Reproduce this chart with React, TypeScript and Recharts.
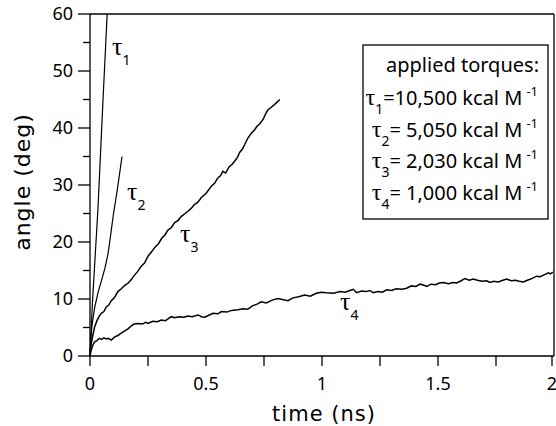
import { LineChart, Line, XAxis, YAxis, ReferenceLine } from "recharts";

// time (ns), angle (deg)
const tau1 = [
  { t: 0, a: 0 }, { t: 0.003, a: 2.5 }, { t: 0.01, a: 9 }, { t: 0.0345, a: 26 },
  { t: 0.055, a: 44 }, { t: 0.074, a: 60 },
];

const tau2 = [
  { t: 0, a: 0 }, { t: 0.004, a: 3.5 }, { t: 0.01, a: 5.8 }, { t: 0.02, a: 8.5 },
  { t: 0.035, a: 11.2 }, { t: 0.05, a: 13.3 }, { t: 0.065, a: 15.5 }, { t: 0.078, a: 18.0 },
  { t: 0.09, a: 21.5 }, { t: 0.1, a: 24.6 }, { t: 0.12, a: 29.8 }, { t: 0.138, a: 35 },
];

const tau3 = [
  { t: 0, a: 0 }, { t: 0.003, a: 1.6 }, { t: 0.01, a: 3.2 }, { t: 0.02, a: 5.1 },
  { t: 0.03, a: 6.2 }, { t: 0.04, a: 7.0 }, { t: 0.049, a: 7.5 }, { t: 0.06, a: 7.8 },
  { t: 0.07, a: 8.6 }, { t: 0.08, a: 8.9 }, { t: 0.092, a: 9.7 }, { t: 0.106, a: 10.3 },
  { t: 0.12, a: 11.3 }, { t: 0.135, a: 11.8 }, { t: 0.15, a: 12.4 }, { t: 0.165, a: 12.8 },
  { t: 0.178, a: 13.4 }, { t: 0.19, a: 14.1 }, { t: 0.205, a: 14.8 }, { t: 0.22, a: 15.7 },
  { t: 0.235, a: 16.3 }, { t: 0.25, a: 17.5 }, { t: 0.264, a: 18.2 }, { t: 0.28, a: 19.1 },
  { t: 0.295, a: 19.7 }, { t: 0.31, a: 20.7 }, { t: 0.322, a: 21.2 }, { t: 0.336, a: 22.1 },
  { t: 0.35, a: 22.5 }, { t: 0.365, a: 23.4 }, { t: 0.38, a: 23.8 }, { t: 0.394, a: 24.5 },
  { t: 0.41, a: 25.0 }, { t: 0.422, a: 25.4 }, { t: 0.436, a: 25.9 }, { t: 0.451, a: 26.6 },
  { t: 0.465, a: 27.0 }, { t: 0.48, a: 27.8 }, { t: 0.5, a: 28.5 }, { t: 0.523, a: 29.8 },
  { t: 0.537, a: 30.3 }, { t: 0.55, a: 31.2 }, { t: 0.562, a: 31.6 }, { t: 0.573, a: 32.4 },
  { t: 0.585, a: 32.1 }, { t: 0.6, a: 33.2 }, { t: 0.612, a: 33.6 }, { t: 0.624, a: 34.2 },
  { t: 0.635, a: 34.8 }, { t: 0.645, a: 35.7 }, { t: 0.657, a: 36.3 }, { t: 0.667, a: 37.1 },
  { t: 0.68, a: 38.2 }, { t: 0.695, a: 39.1 }, { t: 0.708, a: 39.6 }, { t: 0.72, a: 40.3 },
  { t: 0.733, a: 40.8 }, { t: 0.746, a: 41.5 }, { t: 0.757, a: 42.5 }, { t: 0.767, a: 43.2 },
  { t: 0.78, a: 43.6 }, { t: 0.792, a: 44.0 }, { t: 0.805, a: 44.5 }, { t: 0.818, a: 45.0 },
];

const tau4 = [
  { t: 0, a: 0 }, { t: 0.005, a: 1.0 }, { t: 0.012, a: 1.9 }, { t: 0.02, a: 2.5 },
  { t: 0.03, a: 2.7 }, { t: 0.04, a: 3.1 }, { t: 0.05, a: 2.9 }, { t: 0.06, a: 3.2 },
  { t: 0.07, a: 3.0 }, { t: 0.08, a: 3.1 }, { t: 0.092, a: 2.8 }, { t: 0.105, a: 3.3 },
  { t: 0.12, a: 3.6 }, { t: 0.135, a: 4.0 }, { t: 0.15, a: 4.4 }, { t: 0.165, a: 4.8 },
  { t: 0.178, a: 5.3 }, { t: 0.19, a: 5.6 }, { t: 0.207, a: 5.7 }, { t: 0.225, a: 5.6 },
  { t: 0.24, a: 5.9 }, { t: 0.25, a: 5.7 }, { t: 0.27, a: 6.1 }, { t: 0.29, a: 6.0 },
  { t: 0.307, a: 6.3 }, { t: 0.325, a: 6.2 }, { t: 0.35, a: 6.9 }, { t: 0.365, a: 6.7 },
  { t: 0.385, a: 6.9 }, { t: 0.405, a: 6.8 }, { t: 0.422, a: 7.0 }, { t: 0.44, a: 6.9 },
  { t: 0.466, a: 7.2 }, { t: 0.48, a: 6.9 }, { t: 0.494, a: 6.8 }, { t: 0.51, a: 7.1 },
  { t: 0.53, a: 7.5 }, { t: 0.552, a: 7.4 }, { t: 0.566, a: 7.8 }, { t: 0.59, a: 7.7 },
  { t: 0.61, a: 8.0 }, { t: 0.638, a: 8.1 }, { t: 0.66, a: 8.3 }, { t: 0.68, a: 8.2 },
  { t: 0.7, a: 8.8 }, { t: 0.72, a: 9.1 }, { t: 0.738, a: 9.5 }, { t: 0.76, a: 9.3 },
  { t: 0.785, a: 9.8 }, { t: 0.81, a: 10.1 }, { t: 0.83, a: 9.9 }, { t: 0.853, a: 9.7 },
  { t: 0.875, a: 10.2 }, { t: 0.9, a: 10.4 }, { t: 0.925, a: 10.7 }, { t: 0.95, a: 10.5 },
  { t: 0.975, a: 11.0 }, { t: 0.997, a: 11.2 }, { t: 1.02, a: 11.1 }, { t: 1.05, a: 11.0 },
  { t: 1.078, a: 11.3 }, { t: 1.1, a: 11.2 }, { t: 1.12, a: 11.5 }, { t: 1.135, a: 11.7 },
  { t: 1.149, a: 11.1 }, { t: 1.17, a: 11.4 }, { t: 1.19, a: 11.3 }, { t: 1.205, a: 11.5 },
  { t: 1.221, a: 11.1 }, { t: 1.24, a: 11.3 }, { t: 1.26, a: 11.2 }, { t: 1.279, a: 11.6 },
  { t: 1.3, a: 11.5 }, { t: 1.32, a: 11.8 }, { t: 1.345, a: 11.7 }, { t: 1.365, a: 11.9 },
  { t: 1.385, a: 12.3 }, { t: 1.405, a: 12.2 }, { t: 1.422, a: 12.6 }, { t: 1.44, a: 12.4 },
  { t: 1.451, a: 12.2 }, { t: 1.47, a: 12.6 }, { t: 1.49, a: 12.5 }, { t: 1.505, a: 12.8 },
  { t: 1.523, a: 12.9 }, { t: 1.545, a: 12.7 }, { t: 1.565, a: 12.9 }, { t: 1.58, a: 12.8 },
  { t: 1.6, a: 13.2 }, { t: 1.616, a: 13.6 }, { t: 1.635, a: 13.3 }, { t: 1.652, a: 13.5 },
  { t: 1.67, a: 13.3 }, { t: 1.69, a: 13.1 }, { t: 1.71, a: 13.2 }, { t: 1.724, a: 12.9 },
  { t: 1.74, a: 13.1 }, { t: 1.76, a: 13.0 }, { t: 1.78, a: 13.3 }, { t: 1.796, a: 13.5 },
  { t: 1.815, a: 13.2 }, { t: 1.835, a: 13.3 }, { t: 1.85, a: 13.1 }, { t: 1.868, a: 13.0 },
  { t: 1.885, a: 13.3 }, { t: 1.9, a: 13.5 }, { t: 1.925, a: 14.0 }, { t: 1.94, a: 13.9 },
  { t: 1.955, a: 14.2 }, { t: 1.976, a: 14.6 }, { t: 1.985, a: 14.4 }, { t: 1.995, a: 14.7 },
];

const xTicks = [0, 0.25, 0.5, 0.75, 1, 1.25, 1.5, 1.75, 2];
const yTicks = [0, 5, 10, 15, 20, 25, 30, 35, 40, 45, 50, 55, 60];
const torqueLabels = ["=10,500 kcal M", "= 5,050 kcal M", "= 2,030 kcal M", "= 1,000 kcal M"];

const SANS = "'Noto Sans', 'Open Sans', sans-serif";
const SERIF = "'Liberation Serif', 'DejaVu Serif', serif";

function YTick({ x, y, payload }: any) {
  const major = payload.value % 10 === 0;
  return (
    <g>
      <line x1={x - (major ? 12 : 7)} x2={x} y1={y} y2={y} stroke="#000" strokeWidth={1.3} />
      {major && (
        <text x={x - 17} y={y} dy="0.36em" textAnchor="end" fontSize={18} fontFamily={SANS} fill="#000">
          {payload.value}
        </text>
      )}
    </g>
  );
}

function XTick({ x, y, payload }: any) {
  const major = (payload.value * 2) % 1 === 0;
  return (
    <g>
      <line x1={x} x2={x} y1={y} y2={y + 10} stroke="#000" strokeWidth={1.3} />
      {major && (
        <text x={x} y={y + 34} textAnchor="middle" fontSize={18} fontFamily={SANS} fill="#000">
          {payload.value}
        </text>
      )}
    </g>
  );
}

function TauLabel({ x, y, n }: { x: number; y: number; n: number }) {
  return (
    <text x={x} y={y} fill="#000">
      <tspan fontFamily={SERIF} fontSize={26}>τ</tspan>
      <tspan fontFamily={SANS} fontSize={14} dy={10}>{n}</tspan>
    </text>
  );
}

export default function App() {
  return (
    <div style={{ position: "absolute", left: 0, top: 0, width: 556, height: 426, background: "#fff" }}>
      <LineChart width={556} height={426} margin={{ top: 14, right: 2, left: 30, bottom: 0 }}>
        <XAxis
          dataKey="t"
          type="number"
          domain={[0, 2]}
          ticks={xTicks}
          height={70}
          tickSize={0}
          tickMargin={0}
          tickLine={false}
          tick={<XTick />}
          axisLine={{ stroke: "#000", strokeWidth: 1.3 }}
        />
        <YAxis
          type="number"
          domain={[0, 60]}
          allowDataOverflow
          ticks={yTicks}
          width={60}
          tickSize={0}
          tickMargin={0}
          tickLine={false}
          tick={<YTick />}
          axisLine={{ stroke: "#000", strokeWidth: 1.3 }}
        />
        <ReferenceLine y={60} stroke="#000" strokeWidth={1.3} />
        <ReferenceLine x={2} stroke="#000" strokeWidth={1.3} />
        <Line data={tau1} dataKey="a" type="linear" stroke="#000" strokeWidth={1.2} dot={false} isAnimationActive={false} />
        <Line data={tau2} dataKey="a" type="linear" stroke="#000" strokeWidth={1.2} dot={false} isAnimationActive={false} />
        <Line data={tau3} dataKey="a" type="linear" stroke="#000" strokeWidth={1.5} dot={false} isAnimationActive={false} />
        <Line data={tau4} dataKey="a" type="linear" stroke="#000" strokeWidth={1.5} dot={false} isAnimationActive={false} />
      </LineChart>
      <svg width={556} height={426} style={{ position: "absolute", left: 0, top: 0, pointerEvents: "none" }}>
        <text
          transform="translate(30,182) rotate(-90)"
          textAnchor="middle"
          fontSize={22}
          letterSpacing={1}
          fontFamily="'DejaVu Sans', sans-serif"
          fill="#000"
        >
          angle (deg)
        </text>
        <text x={324} y={421} textAnchor="middle" fontSize={21} letterSpacing={1} fontFamily="'DejaVu Sans', sans-serif" fill="#000">
          time (ns)
        </text>
        <TauLabel x={112} y={55} n={1} />
        <TauLabel x={127} y={200} n={2} />
        <TauLabel x={180} y={242} n={3} />
        <TauLabel x={340} y={310} n={4} />
        <rect x={363} y={45} width={185} height={174} fill="#fff" stroke="#000" strokeWidth={1.3} />
        <text x={539} y={72} textAnchor="end" fontSize={20} fontFamily={SANS} fill="#000">
          applied torques:
        </text>
        {torqueLabels.map((lab, i) => (
          <text key={i} x={538} y={105 + i * 31.7} textAnchor="end" fontSize={20} fontFamily={SANS} fill="#000">
            <tspan fontFamily={SERIF} fontSize={24}>τ</tspan>
            <tspan fontSize={14} dy={9}>{i + 1}</tspan>
            <tspan dy={-9}>{lab}</tspan>
            <tspan fontSize={13} dx={4} dy={-9}>-1</tspan>
          </text>
        ))}
      </svg>
    </div>
  );
}
